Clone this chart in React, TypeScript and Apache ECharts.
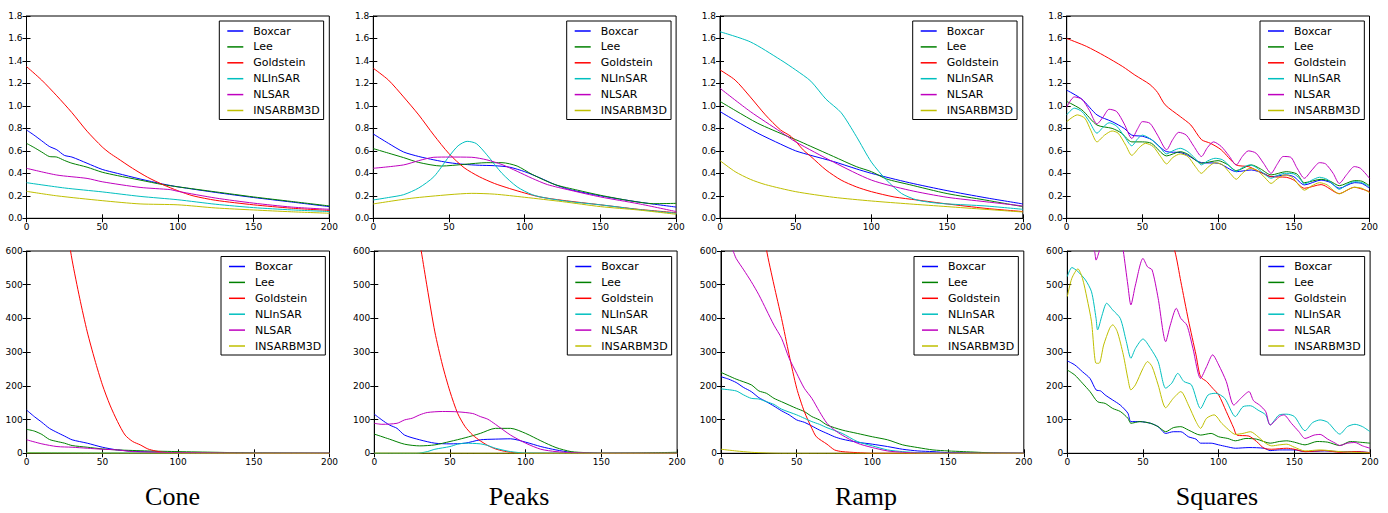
import React, { useEffect, useRef } from "react";
import * as echarts from "echarts";

const METHODS = ["Boxcar", "Lee", "Goldstein", "NLInSAR", "NLSAR", "INSARBM3D"];
const COLORS = ["#0000ff", "#008000", "#ff0000", "#00bfbf", "#bf00bf", "#bfbf00"];
const TITLES = ["Cone", "Peaks", "Ramp", "Squares"];
const X_MIN = 0, X_MAX = 200, X_STEP = 50;
const TOP_Y = { min: 0, max: 1.8, step: 0.2 };
const BOT_Y = { min: 0, max: 600, step: 100 };

// ---------- Top row (phase error) ----------
const CONE_T_BOXCAR = [[0,0.786],[5,0.74],[10,0.69],[15,0.64],[20,0.61],[25,0.56],[30,0.545],[40,0.49],[50,0.435],[60,0.40],[75,0.35],[90,0.305],[100,0.28],[125,0.23],[150,0.185],[175,0.145],[200,0.104]];
const CONE_T_LEE = [[0,0.667],[5,0.63],[10,0.59],[15,0.55],[20,0.545],[25,0.515],[30,0.49],[40,0.455],[50,0.41],[60,0.38],[75,0.34],[90,0.30],[100,0.28],[125,0.235],[150,0.19],[175,0.15],[200,0.11]];
const CONE_T_GOLD = [[0,1.35],[10,1.23],[20,1.09],[30,0.94],[40,0.775],[50,0.635],[55,0.58],[60,0.535],[70,0.445],[80,0.365],[90,0.30],[100,0.245],[110,0.2],[125,0.16],[150,0.12],[175,0.09],[200,0.07]];
const CONE_T_NLIN = [[0,0.317],[25,0.27],[50,0.235],[75,0.195],[100,0.165],[125,0.125],[150,0.095],[175,0.075],[200,0.06]];
const CONE_T_NLSAR = [[0,0.445],[20,0.385],[40,0.355],[50,0.325],[75,0.275],[95,0.255],[100,0.24],[125,0.18],[150,0.135],[175,0.1],[200,0.08]];
const CONE_T_BM3D = [[0,0.24],[20,0.2],[50,0.157],[75,0.128],[100,0.12],[125,0.092],[150,0.074],[175,0.058],[200,0.045]];

const PEAKS_T_BOXCAR = [[0,0.75],[10,0.667],[20,0.59],[30,0.55],[40,0.52],[50,0.495],[60,0.48],[70,0.472],[80,0.468],[90,0.455],[100,0.415],[110,0.36],[120,0.30],[130,0.255],[150,0.2],[175,0.145],[200,0.1]];
const PEAKS_T_LEE = [[0,0.62],[10,0.58],[20,0.54],[30,0.497],[45,0.465],[60,0.48],[75,0.495],[85,0.495],[95,0.465],[105,0.39],[120,0.30],[135,0.25],[150,0.205],[170,0.155],[185,0.13],[200,0.133]];
const PEAKS_T_GOLD = [[0,1.335],[10,1.23],[20,1.08],[30,0.92],[40,0.74],[50,0.575],[60,0.45],[70,0.37],[80,0.31],[90,0.265],[100,0.225],[110,0.19],[125,0.16],[150,0.12],[175,0.08],[200,0.05]];
const PEAKS_T_NLIN = [[0,0.163],[10,0.185],[20,0.21],[30,0.27],[40,0.37],[50,0.55],[56,0.645],[62,0.685],[68,0.665],[75,0.565],[85,0.40],[95,0.28],[105,0.21],[115,0.178],[130,0.148],[150,0.12],[175,0.078],[200,0.045]];
const PEAKS_T_NLSAR = [[0,0.445],[20,0.475],[30,0.513],[40,0.543],[50,0.545],[65,0.543],[75,0.52],[85,0.478],[95,0.418],[105,0.355],[115,0.30],[130,0.25],[150,0.19],[175,0.13],[200,0.06]];
const PEAKS_T_BM3D = [[0,0.128],[25,0.178],[50,0.21],[65,0.222],[80,0.215],[100,0.187],[125,0.148],[150,0.104],[175,0.074],[200,0.036]];

const RAMP_T_BOXCAR = [[0,0.95],[10,0.87],[25,0.757],[40,0.66],[50,0.60],[60,0.56],[75,0.505],[90,0.44],[100,0.40],[125,0.317],[150,0.246],[175,0.184],[200,0.128]];
const RAMP_T_LEE = [[0,1.04],[10,0.96],[25,0.845],[45,0.727],[50,0.70],[60,0.64],[75,0.55],[90,0.46],[100,0.415],[110,0.35],[125,0.30],[150,0.22],[175,0.163],[200,0.104]];
const RAMP_T_GOLD = [[0,1.32],[10,1.23],[20,1.08],[30,0.92],[40,0.786],[47,0.727],[55,0.608],[60,0.55],[70,0.43],[80,0.34],[90,0.28],[100,0.237],[115,0.19],[130,0.163],[150,0.128],[175,0.089],[200,0.06]];
const RAMP_T_NLIN = [[0,1.66],[20,1.57],[40,1.41],[50,1.32],[60,1.22],[70,1.06],[80,0.94],[90,0.73],[100,0.50],[110,0.34],[120,0.22],[130,0.163],[140,0.14],[150,0.128],[175,0.11],[200,0.08]];
const RAMP_T_NLSAR = [[0,1.157],[20,0.95],[40,0.77],[50,0.68],[75,0.50],[100,0.34],[125,0.25],[150,0.187],[175,0.148],[200,0.11]];
const RAMP_T_BM3D = [[0,0.513],[10,0.415],[20,0.347],[30,0.30],[50,0.237],[75,0.187],[100,0.154],[125,0.128],[150,0.104],[175,0.08],[200,0.056]];

const SQ_T_BOXCAR = [[0,1.14],[10,1.06],[20,0.92],[30,0.86],[38,0.80],[43,0.74],[50,0.73],[56,0.70],[66,0.593],[75,0.585],[80,0.56],[89,0.495],[100,0.49],[112,0.415],[122,0.43],[130,0.40],[135,0.37],[145,0.386],[150,0.37],[157,0.297],[168,0.34],[174,0.32],[180,0.267],[190,0.317],[195,0.31],[200,0.267]];
const SQ_T_LEE = [[0,1.04],[10,0.965],[20,0.83],[30,0.80],[36,0.76],[43,0.68],[50,0.68],[56,0.667],[66,0.555],[75,0.593],[80,0.57],[89,0.49],[100,0.513],[106,0.48],[112,0.424],[122,0.475],[128,0.44],[135,0.386],[145,0.415],[152,0.395],[157,0.317],[168,0.347],[174,0.33],[180,0.29],[190,0.335],[195,0.33],[200,0.29]];
const SQ_T_GOLD = [[0,1.6],[13,1.53],[25,1.445],[37,1.35],[45,1.275],[55,1.19],[60,1.12],[65,1.01],[75,0.905],[82,0.83],[89,0.70],[95,0.667],[102,0.61],[112,0.475],[120,0.46],[125,0.43],[135,0.37],[145,0.365],[150,0.34],[157,0.267],[168,0.30],[180,0.22],[190,0.276],[200,0.237]];
const SQ_T_NLIN = [[0,0.92],[5,0.98],[10,0.95],[15,0.86],[20,0.757],[24,0.81],[28,0.85],[33,0.82],[38,0.73],[43,0.645],[47,0.71],[50,0.74],[56,0.70],[61,0.64],[66,0.573],[70,0.6],[75,0.623],[80,0.593],[85,0.53],[89,0.475],[93,0.51],[98,0.534],[103,0.52],[108,0.46],[112,0.415],[116,0.45],[121,0.475],[125,0.454],[130,0.40],[135,0.356],[139,0.38],[144,0.40],[150,0.395],[154,0.35],[157,0.305],[162,0.34],[167,0.365],[172,0.347],[176,0.30],[180,0.258],[185,0.3],[190,0.326],[195,0.317],[200,0.28]];
const SQ_T_NLSAR = [[0,0.99],[5,1.08],[10,1.06],[15,0.96],[20,0.84],[24,0.9],[28,0.97],[33,0.95],[38,0.84],[43,0.71],[47,0.8],[50,0.86],[55,0.845],[60,0.74],[66,0.61],[70,0.7],[74,0.765],[79,0.74],[84,0.64],[89,0.55],[93,0.63],[97,0.68],[102,0.64],[107,0.56],[112,0.475],[116,0.55],[120,0.60],[125,0.58],[130,0.49],[135,0.40],[139,0.48],[143,0.55],[148,0.543],[152,0.45],[157,0.356],[162,0.43],[167,0.495],[171,0.484],[176,0.40],[180,0.31],[185,0.39],[190,0.46],[194,0.445],[200,0.356]];
const SQ_T_BM3D = [[0,0.86],[7,0.92],[12,0.89],[16,0.78],[20,0.68],[25,0.74],[30,0.777],[34,0.757],[39,0.65],[43,0.56],[48,0.63],[52,0.667],[57,0.64],[62,0.55],[66,0.484],[70,0.54],[75,0.573],[80,0.55],[85,0.46],[89,0.40],[93,0.45],[98,0.495],[103,0.475],[108,0.40],[112,0.347],[116,0.40],[121,0.445],[126,0.424],[131,0.36],[135,0.31],[139,0.35],[144,0.386],[149,0.365],[153,0.3],[157,0.25],[162,0.29],[167,0.317],[172,0.297],[176,0.25],[180,0.217],[185,0.25],[190,0.276],[195,0.267],[200,0.228]];

// ---------- Bottom row ----------
const CONE_B_BOXCAR = [[0,128],[5,109],[10,92],[15,74],[20,62],[25,51],[30,40],[40,30],[50,18],[60,10],[75,5],[100,2],[150,0.5],[200,0]];
const CONE_B_LEE = [[0,71],[5,66],[10,56],[15,41],[20,35],[25,30],[30,23],[40,18],[50,13],[60,10],[80,7],[100,5],[125,3],[150,1],[200,0]];
const CONE_B_GOLD = [[0,1500],[10,1150],[20,850],[25,710],[30,573],[35,460],[40,360],[45,277],[50,203],[55,143],[60,94],[65,54],[70,35],[75,25],[80,13],[85,7],[90,3],[100,1],[200,0]];
const CONE_B_NLIN = [[0,2],[50,1],[100,0.5],[200,0]];
const CONE_B_NLSAR = [[0,40],[10,28],[20,20],[30,18],[40,15],[50,12],[60,10],[70,5],[100,2],[150,0],[200,0]];
const CONE_B_BM3D = [[0,1],[50,0.5],[100,0],[200,0]];

const PEAKS_B_BOXCAR = [[0,116],[5,99],[10,84],[15,74],[20,54],[30,40],[40,30],[50,28],[60,30],[70,40],[80,42],[90,43],[100,33],[110,20],[120,10],[130,3],[150,0],[200,0]];
const PEAKS_B_LEE = [[0,57],[10,42],[20,27],[30,22],[40,25],[50,35],[60,46],[70,59],[80,74],[90,74],[100,59],[110,37],[120,17],[130,5],[140,2],[150,0.5],[175,1],[200,3]];
const PEAKS_B_GOLD = [[0,1500],[10,1200],[20,900],[25,760],[31,600],[35,490],[40,360],[45,262],[50,183],[55,119],[60,79],[65,54],[70,37],[75,23],[80,13],[85,7],[90,3],[100,0],[200,0]];
const PEAKS_B_NLIN = [[0,0],[28,0],[35,5],[40,12],[50,20],[55,27],[60,30],[70,28],[75,23],[80,15],[90,5],[100,1],[200,0]];
const PEAKS_B_NLSAR = [[0,89],[5,86],[15,89],[20,99],[25,104],[30,114],[35,121],[45,124],[55,123],[65,118],[70,109],[75,101],[80,86],[90,54],[100,30],[110,12],[120,5],[130,2],[150,0],[200,0]];
const PEAKS_B_BM3D = [[0,0.5],[100,0],[200,0]];

const RAMP_B_BOXCAR = [[0,227],[5,220],[10,210],[15,195],[20,183],[25,165],[30,153],[35,140],[40,126],[45,114],[50,99],[55,92],[60,81],[65,69],[70,59],[75,49],[80,42],[90,33],[100,27],[110,20],[120,12],[130,7],[140,5],[150,2],[200,0]];
const RAMP_B_LEE = [[0,240],[10,220],[20,203],[25,185],[30,178],[35,163],[40,153],[50,133],[55,124],[60,109],[65,99],[70,84],[80,69],[90,59],[100,49],[110,40],[120,25],[130,17],[140,10],[150,7],[160,5],[170,3],[180,1],[200,0]];
const RAMP_B_GOLD = [[0,1400],[10,1150],[20,900],[25,760],[30,605],[35,499],[40,400],[45,292],[50,193],[55,124],[60,74],[63,49],[70,27],[75,10],[80,5],[90,2],[100,0],[200,0]];
const RAMP_B_NLIN = [[0,191],[10,185],[15,173],[20,163],[25,161],[30,153],[35,145],[40,131],[50,114],[55,104],[60,94],[65,86],[70,76],[80,59],[90,35],[100,22],[110,10],[120,5],[130,2],[150,0],[200,0]];
const RAMP_B_NLSAR = [[0,680],[8,600],[10,578],[15,544],[20,509],[25,470],[30,425],[35,380],[40,341],[45,282],[50,237],[55,193],[60,163],[65,124],[70,89],[75,69],[80,54],[90,30],[100,17],[110,7],[120,3],[130,1],[150,0],[200,0]];
const RAMP_B_BM3D = [[0,12],[10,7],[20,3],[30,1],[40,0],[200,0]];

const SQ_B_BOXCAR = [[0,274],[5,262],[10,242],[15,222],[19,188],[22,185],[25,173],[30,158],[35,143],[40,119],[42,94],[48,94],[55,89],[60,79],[65,59],[70,64],[75,64],[80,49],[85,42],[88,30],[95,30],[100,25],[105,20],[111,15],[120,17],[130,15],[134,8],[140,10],[150,10],[157,5],[170,7],[180,5],[190,5],[200,2]];
const SQ_B_LEE = [[0,247],[5,232],[10,208],[15,183],[20,153],[25,148],[30,133],[35,124],[40,104],[42,89],[48,94],[55,89],[60,79],[65,64],[70,76],[75,79],[80,69],[88,54],[95,59],[100,49],[106,44],[111,37],[118,44],[125,42],[134,30],[140,35],[145,37],[150,33],[157,25],[165,35],[172,33],[180,23],[187,35],[193,33],[200,30]];
const SQ_B_GOLD = [[0,1500],[40,1000],[60,750],[71,600],[75,509],[80,395],[85,292],[88,227],[92,213],[96,193],[100,173],[105,124],[110,74],[112,54],[120,51],[125,35],[130,15],[135,12],[145,15],[150,12],[157,5],[170,8],[180,3],[190,5],[200,2]];
const SQ_B_NLIN = [[0,524],[3,551],[7,539],[12,514],[16,479],[19,400],[20,366],[23,410],[26,445],[30,425],[35,400],[39,331],[42,282],[45,311],[50,339],[55,311],[60,272],[65,193],[69,208],[73,237],[77,213],[82,203],[88,133],[93,173],[98,178],[104,163],[111,109],[116,138],[121,141],[126,128],[131,114],[134,84],[140,114],[145,116],[150,109],[157,67],[162,91],[167,99],[172,92],[180,57],[185,79],[190,86],[195,79],[200,64]];
const SQ_B_NLSAR = [[0,700],[10,660],[15,620],[18,598],[19,573],[21,598],[24,640],[28,700],[34,680],[37,600],[40,499],[42,440],[45,499],[50,578],[53,553],[56,544],[60,460],[65,331],[68,380],[72,430],[75,400],[79,380],[83,311],[88,222],[92,257],[96,292],[100,262],[105,213],[110,143],[115,165],[120,183],[123,156],[127,143],[131,124],[134,84],[140,109],[143,114],[148,89],[153,64],[157,44],[163,54],[167,56],[172,42],[177,30],[180,23],[185,30],[190,32],[195,22],[200,15]];
const SQ_B_BM3D = [[0,465],[3,519],[7,547],[10,519],[13,460],[16,390],[19,267],[21,267],[24,321],[28,371],[30,381],[33,361],[37,292],[40,222],[42,188],[45,203],[50,252],[53,272],[56,257],[60,203],[65,135],[70,163],[75,183],[80,143],[85,94],[88,74],[92,104],[97,114],[102,89],[108,64],[111,56],[116,59],[121,64],[126,49],[131,30],[135,22],[140,25],[145,27],[150,18],[157,7],[167,10],[180,5],[190,3],[200,1]];

const TOP_PANELS = [
  [CONE_T_BOXCAR, CONE_T_LEE, CONE_T_GOLD, CONE_T_NLIN, CONE_T_NLSAR, CONE_T_BM3D],
  [PEAKS_T_BOXCAR, PEAKS_T_LEE, PEAKS_T_GOLD, PEAKS_T_NLIN, PEAKS_T_NLSAR, PEAKS_T_BM3D],
  [RAMP_T_BOXCAR, RAMP_T_LEE, RAMP_T_GOLD, RAMP_T_NLIN, RAMP_T_NLSAR, RAMP_T_BM3D],
  [SQ_T_BOXCAR, SQ_T_LEE, SQ_T_GOLD, SQ_T_NLIN, SQ_T_NLSAR, SQ_T_BM3D],
];
const BOT_PANELS = [
  [CONE_B_BOXCAR, CONE_B_LEE, CONE_B_GOLD, CONE_B_NLIN, CONE_B_NLSAR, CONE_B_BM3D],
  [PEAKS_B_BOXCAR, PEAKS_B_LEE, PEAKS_B_GOLD, PEAKS_B_NLIN, PEAKS_B_NLSAR, PEAKS_B_BM3D],
  [RAMP_B_BOXCAR, RAMP_B_LEE, RAMP_B_GOLD, RAMP_B_NLIN, RAMP_B_NLSAR, RAMP_B_BM3D],
  [SQ_B_BOXCAR, SQ_B_LEE, SQ_B_GOLD, SQ_B_NLIN, SQ_B_NLSAR, SQ_B_BM3D],
];

// layout (pixels)
const TOP_LEFTS = [26.5, 373.3, 720, 1066.7];
const BOT_LEFTS = [26.7, 374.3, 721, 1067.3];
const PLOT_W = 302.8;
const TOP_TOP = 16, BOT_TOP = 251, PLOT_H = 202.3;
const TOP_LEGEND_LEFTS = [219.3, 566.7, 912.7, 1260];
const BOT_LEGEND_LEFTS = [221, 567.3, 914, 1260.3];
const TITLE_X = [172.5, 519, 866, 1217];
const TITLE_Y = 496;

const SANS = "'DejaVu Sans', 'Bitstream Vera Sans', sans-serif";

function buildOption() {
  const grid: any[] = [];
  const xAxis: any[] = [];
  const yAxis: any[] = [];
  const series: any[] = [];
  const legend: any[] = [];
  const rows = [
    { panels: TOP_PANELS, lefts: TOP_LEFTS, top: TOP_TOP, y: TOP_Y, legLefts: TOP_LEGEND_LEFTS, legTop: 21, dec: 1 },
    { panels: BOT_PANELS, lefts: BOT_LEFTS, top: BOT_TOP, y: BOT_Y, legLefts: BOT_LEGEND_LEFTS, legTop: 256.5, dec: 0 },
  ];
  let g = 0;
  rows.forEach((row) => {
    row.panels.forEach((panel, c) => {
      grid.push({
        left: row.lefts[c], top: row.top, width: PLOT_W, height: PLOT_H,
        show: true, borderColor: "#000", borderWidth: 1, backgroundColor: "#fff",
        containLabel: false,
      });
      const tickStyle = { show: true, inside: true, length: 4, lineStyle: { color: "#000", width: 1 } };
      xAxis.push({
        type: "value", gridIndex: g, min: X_MIN, max: X_MAX, interval: X_STEP, position: "bottom",
        axisLine: { show: true, lineStyle: { color: "#000", width: 1 } },
        axisTick: tickStyle, splitLine: { show: false },
        axisLabel: { show: true, color: "#000", fontSize: 9, fontFamily: SANS, margin: 4 },
      });
      xAxis.push({
        type: "value", gridIndex: g, min: X_MIN, max: X_MAX, interval: X_STEP, position: "top",
        axisLine: { show: false }, axisTick: tickStyle, splitLine: { show: false },
        axisLabel: { show: false },
      });
      const dec = row.dec;
      yAxis.push({
        type: "value", gridIndex: g, min: row.y.min, max: row.y.max, interval: row.y.step, position: "left",
        axisLine: { show: true, lineStyle: { color: "#000", width: 1 } },
        axisTick: tickStyle, splitLine: { show: false },
        axisLabel: {
          show: true, color: "#000", fontSize: 9, fontFamily: SANS, margin: 4,
          formatter: (v: number) => v.toFixed(dec),
        },
      });
      yAxis.push({
        type: "value", gridIndex: g, min: row.y.min, max: row.y.max, interval: row.y.step, position: "right",
        axisLine: { show: false }, axisTick: tickStyle, splitLine: { show: false },
        axisLabel: { show: false },
      });
      panel.forEach((data, m) => {
        series.push({
          type: "line", name: METHODS[m], xAxisIndex: 2 * g, yAxisIndex: 2 * g,
          data, symbol: "none", showSymbol: false, smooth: 0.25, clip: true,
          lineStyle: { color: COLORS[m], width: 1 }, itemStyle: { color: COLORS[m] },
          emphasis: { disabled: true },
        });
      });
      legend.push({
        orient: "vertical", left: row.legLefts[c], top: row.legTop,
        data: METHODS, icon: "rect", itemWidth: 16, itemHeight: 1.5, itemGap: 1.9,
        padding: [3, 4, 2, 8], borderColor: "#000", borderWidth: 1, backgroundColor: "#fff",
        selectedMode: false,
        textStyle: { fontSize: 11, fontFamily: SANS, color: "#000", lineHeight: 14, padding: [0, 0, 0, 5] },
      });
      g++;
    });
  });
  const graphic = TITLES.map((t, i) => ({
    type: "text", x: TITLE_X[i], y: TITLE_Y,
    style: {
      text: t, fill: "#000", fontSize: 26, fontFamily: "'Liberation Serif', 'Times New Roman', serif",
      align: "center", verticalAlign: "middle", textAlign: "center", textVerticalAlign: "middle",
    },
  }));
  return { animation: false, backgroundColor: "#fff", grid, xAxis, yAxis, series, legend, graphic };
}

export default function App() {
  const ref = useRef<HTMLDivElement>(null);
  useEffect(() => {
    if (!ref.current) return;
    const chart = echarts.init(ref.current, undefined, { renderer: "svg" });
    chart.setOption(buildOption() as any);
    return () => chart.dispose();
  }, []);
  return (
    <div
      ref={ref}
      style={{ position: "fixed", left: 0, top: 0, width: 1388, height: 513, background: "#fff" }}
    />
  );
}
